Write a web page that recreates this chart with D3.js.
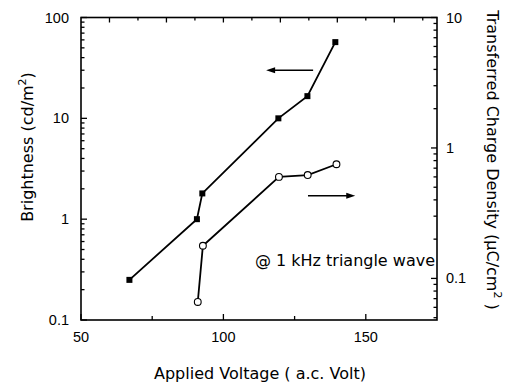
<!DOCTYPE html>
<html>
<head>
<meta charset="utf-8">
<script src="https://cdn.jsdelivr.net/npm/d3@7"></script>
<style>
  html, body { margin: 0; padding: 0; background: #fff; }
  svg { display: block; }
  .tick-label { font-family: "Liberation Sans", Arial, sans-serif; font-size: 14.5px; fill: #000; }
  .title { font-family: "DejaVu Sans", sans-serif; font-size: 16px; fill: #000; }
</style>
</head>
<body>
<script>
// Applied voltage (a.c. V) and the two measured quantities
const brightnessVoltage = [67, 90.7, 92.6, 119.3, 129.5, 139.3];
const brightness = [0.25, 1.0, 1.8, 10, 16.6, 57];          // cd/m²
const chargeVoltage = [91, 92.8, 119.5, 129.6, 139.7];
const chargeDensity = [0.066, 0.178, 0.60, 0.62, 0.75];     // µC/cm²

const xTicks = [50, 100, 150];
const xMinorTicks = [75, 125];
const xTopTicks = [60, 70, 80, 90, 100, 110, 120, 130, 140, 150, 160, 170];
const leftTicks = [0.1, 1, 10, 100];
const leftTickLabels = ["0.1", "1", "10", "100"];
const rightTicks = [0.1, 1, 10];
const rightTickLabels = ["0.1", "1", "10"];

const W = 523, H = 388;
const plot = { left: 81, right: 437, top: 17.5, bottom: 320 };

const svg = d3.select("body").append("svg").attr("width", W).attr("height", H);

const x = d3.scaleLinear().domain([50, 175]).range([plot.left, plot.right]);
const yL = d3.scaleLog().domain([0.1, 100]).range([plot.bottom, plot.top]);
const yR = d3.scaleLog().domain([0.048, 10]).range([plot.bottom, plot.top]);

// Frame
svg.append("rect")
  .attr("x", plot.left).attr("y", plot.top)
  .attr("width", plot.right - plot.left).attr("height", plot.bottom - plot.top)
  .attr("fill", "none").attr("stroke", "#000").attr("stroke-width", 1.6);

// Minor log ticks for a log domain
function logMinor(scale) {
  const [a, b] = scale.domain();
  const out = [];
  for (let e = Math.floor(Math.log10(a)); e <= Math.ceil(Math.log10(b)); e++) {
    for (let m = 1; m <= 9; m++) {
      const v = m * Math.pow(10, e);
      if (v >= a * 0.999 && v <= b * 1.001) out.push({ v, major: m === 1 });
    }
  }
  return out;
}

const tickG = svg.append("g").attr("stroke", "#000").attr("stroke-width", 1.3);

// Bottom axis ticks (inward)
xTicks.concat(xMinorTicks).forEach(v => {
  const len = xTicks.includes(v) ? 6 : 4;
  tickG.append("line").attr("x1", x(v)).attr("x2", x(v))
    .attr("y1", plot.bottom).attr("y2", plot.bottom - len);
});
// Top axis ticks (inward)
xTopTicks.forEach(v => {
  const len = v % 20 === 0 ? 5 : 3;
  tickG.append("line").attr("x1", x(v)).attr("x2", x(v))
    .attr("y1", plot.top).attr("y2", plot.top + len);
});
// Left axis ticks (inward)
logMinor(yL).forEach(t => {
  const len = t.major ? 6 : 3.5;
  tickG.append("line").attr("x1", plot.left).attr("x2", plot.left + len)
    .attr("y1", yL(t.v)).attr("y2", yL(t.v));
});
// Right axis ticks (inward)
logMinor(yR).forEach(t => {
  const len = t.major ? 6 : 3.5;
  tickG.append("line").attr("x1", plot.right).attr("x2", plot.right - len)
    .attr("y1", yR(t.v)).attr("y2", yR(t.v));
});

// Tick labels
svg.append("g").selectAll("text").data(xTicks).join("text")
  .attr("class", "tick-label").attr("text-anchor", "middle")
  .attr("x", d => x(d)).attr("y", 342).text(d => d);

svg.append("g").selectAll("text").data(leftTicks).join("text")
  .attr("class", "tick-label").attr("text-anchor", "end")
  .attr("x", 69).attr("y", d => yL(d) + 5).text((d, i) => leftTickLabels[i]);

svg.append("g").selectAll("text").data(rightTicks).join("text")
  .attr("class", "tick-label").attr("text-anchor", "start")
  .attr("x", 446).attr("y", d => yR(d) + 5).text((d, i) => rightTickLabels[i]);

// Axis titles
svg.append("text").attr("class", "title").attr("text-anchor", "middle")
  .attr("x", 260).attr("y", 379).text("Applied Voltage ( a.c. Volt)");

const lt = svg.append("text").attr("class", "title").attr("text-anchor", "middle")
  .attr("transform", "translate(33,147) rotate(-90)");
lt.append("tspan").text("Brightness (cd/m");
lt.append("tspan").attr("dy", -7).attr("font-size", "11px").text("2");
lt.append("tspan").attr("dy", 7).text(")");

const rt = svg.append("text").attr("class", "title").attr("text-anchor", "middle")
  .attr("transform", "translate(487,160) rotate(90)");
rt.append("tspan").text("Transferred Charge Density (\u00b5C/cm");
rt.append("tspan").attr("dy", -7).attr("font-size", "11px").text("2");
rt.append("tspan").attr("dy", 7).text(" )");

// Brightness series (filled squares, left axis)
const lineL = d3.line().x(d => x(d[0])).y(d => yL(d[1]));
const ptsL = brightnessVoltage.map((v, i) => [v, brightness[i]]);
svg.append("path").datum(ptsL).attr("d", lineL)
  .attr("fill", "none").attr("stroke", "#000").attr("stroke-width", 1.8);
svg.append("g").selectAll("rect").data(ptsL).join("rect")
  .attr("x", d => x(d[0]) - 3).attr("y", d => yL(d[1]) - 3)
  .attr("width", 6).attr("height", 6).attr("fill", "#000");

// Charge density series (open circles, right axis)
const lineR = d3.line().x(d => x(d[0])).y(d => yR(d[1]));
const ptsR = chargeVoltage.map((v, i) => [v, chargeDensity[i]]);
svg.append("path").datum(ptsR).attr("d", lineR)
  .attr("fill", "none").attr("stroke", "#000").attr("stroke-width", 1.8);
svg.append("g").selectAll("circle").data(ptsR).join("circle")
  .attr("cx", d => x(d[0])).attr("cy", d => yR(d[1])).attr("r", 3.4)
  .attr("fill", "#fff").attr("stroke", "#000").attr("stroke-width", 1.1);

// Arrows indicating which axis each curve belongs to
function arrow(x1, x2, y) {
  const dir = Math.sign(x2 - x1);
  svg.append("line").attr("x1", x1).attr("x2", x2 - dir * 6).attr("y1", y).attr("y2", y)
    .attr("stroke", "#000").attr("stroke-width", 1.6);
  svg.append("path")
    .attr("d", `M${x2},${y} L${x2 - dir * 9},${y - 3} L${x2 - dir * 9},${y + 3} Z`)
    .attr("fill", "#000");
}
arrow(x(131.5), x(115), yL(30));
arrow(x(129.7), x(146.3), yR(0.43));

// Annotation
svg.append("text").attr("class", "title").attr("text-anchor", "end")
  .attr("x", 435).attr("y", 266).text("@ 1 kHz triangle wave");
</script>
</body>
</html>
